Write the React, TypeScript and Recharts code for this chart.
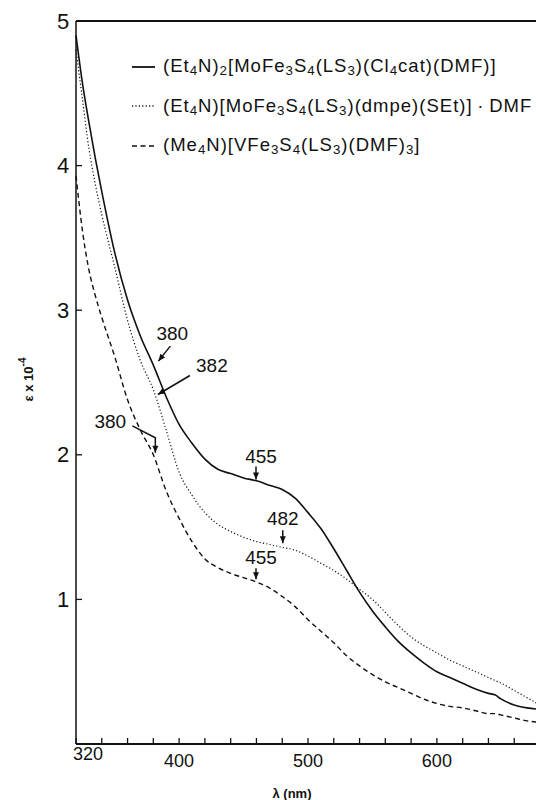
import React from 'react';
import { LineChart, Line, XAxis, YAxis, Legend, ReferenceLine, ReferenceDot } from 'recharts';

// wavelength grid (nm)
const wavelengths = [
  320, 325, 330, 335, 340, 350, 360, 370, 380, 390, 400, 410, 420, 430, 440, 450, 460, 470, 480, 490,
  500, 510, 520, 530, 540, 550, 560, 570, 580, 590, 600, 610, 620, 630, 640, 645, 650, 660, 670, 680,
];

// epsilon x 10^-4
const moCl4cat = [
  4.9, 4.57, 4.3, 4.05, 3.82, 3.4, 3.07, 2.82, 2.62, 2.4, 2.21, 2.08, 1.97, 1.9, 1.87, 1.84, 1.82, 1.79, 1.76, 1.7,
  1.6, 1.49, 1.35, 1.2, 1.05, 0.92, 0.81, 0.71, 0.63, 0.56, 0.5, 0.46, 0.42, 0.38, 0.35, 0.34, 0.31, 0.27, 0.25, 0.24,
];
const moDmpe = [
  4.8, 4.46, 4.12, 3.87, 3.66, 3.3, 2.93, 2.65, 2.45, 2.17, 1.88, 1.72, 1.6, 1.52, 1.47, 1.43, 1.4, 1.38, 1.36, 1.34,
  1.3, 1.25, 1.2, 1.14, 1.07, 1.0, 0.91, 0.82, 0.74, 0.68, 0.63, 0.58, 0.54, 0.5, 0.46, 0.44, 0.42, 0.37, 0.32, 0.27,
];
const vDmf = [
  3.93, 3.55, 3.28, 3.1, 2.95, 2.68, 2.38, 2.17, 2.0, 1.75, 1.56, 1.4, 1.28, 1.22, 1.18, 1.15, 1.12, 1.08, 1.02, 0.95,
  0.86, 0.78, 0.7, 0.61, 0.54, 0.48, 0.43, 0.39, 0.35, 0.31, 0.28, 0.26, 0.25, 0.23, 0.21, 0.21, 0.2, 0.18, 0.16, 0.15,
];

const seriesNames = [
  '(Et4N)2[MoFe3S4(LS3)(Cl4cat)(DMF)]',
  '(Et4N)[MoFe3S4(LS3)(dmpe)(SEt)]\u2009·\u2009DMF',
  '(Me4N)[VFe3S4(LS3)(DMF)3]',
];

const xTicks = [320, 340, 360, 380, 400, 420, 440, 460, 480, 500, 520, 540, 560, 580, 600, 620, 640, 660];
const xTickLabels = ['320', '400', '500', '600'];
const yTicks = [1, 2, 3, 4, 5];

// band maxima marked with arrows
const peakLabels = ['380', '382', '380', '455', '482', '455'];
const peakX = [380, 382, 380, 455, 482, 455];
const peakY = [2.62, 2.41, 2.0, 1.83, 1.36, 1.14];

const data = wavelengths.map((wl, i) => ({ wl, a: moCl4cat[i], b: moDmpe[i], c: vDmf[i] }));

const FONT = '"Liberation Sans", Arial, sans-serif';
const INK = '#111';
const lineStyles = [
  { key: 'a', dash: undefined, width: 1.6 },
  { key: 'b', dash: '1.2 2.2', width: 1.2 },
  { key: 'c', dash: '5 3.5', width: 1.4 },
];

// arrow path (relative to the marked point) and label offset for each callout
const calloutGeom = [
  { text: [19, -32], path: [[17, -19], [5, -4]] },
  { text: [56, -30], path: [[34, -20], [2, -1]] },
  { text: [-43, -33], path: [[-21, -29], [2, -17], [2, -2]] },
  { text: [11, -23], path: [[6, -13], [6, 0]] },
  { text: [-2, -29], path: [[-2, -17], [-2, -4]] },
  { text: [11, -22], path: [[6, -11], [6, 0]] },
];

function withSubscripts(s: string) {
  const parts: React.ReactNode[] = [];
  for (let i = 0; i < s.length; i++) {
    const ch = s[i];
    if (/\d/.test(ch) && i > 0 && /[A-Za-z)]/.test(s[i - 1])) {
      parts.push(<sub key={i} style={{ fontSize: '0.72em', verticalAlign: '-0.25em' }}>{ch}</sub>);
    } else {
      parts.push(ch);
    }
  }
  return parts;
}

function Callout(props: any) {
  const { cx, cy, label, geom } = props;
  const pts = geom.path.map(([dx, dy]: number[]) => [cx + dx, cy + dy]);
  const [x2, y2] = pts[pts.length - 1];
  const [x1, y1] = pts[pts.length - 2];
  const a = Math.atan2(y2 - y1, x2 - x1);
  const L = 7;
  const W = 3;
  const c = Math.cos(a);
  const s = Math.sin(a);
  const head = [
    [x2, y2],
    [x2 - L * c + W * s, y2 - L * s - W * c],
    [x2 - L * c - W * s, y2 - L * s + W * c],
  ];
  return (
    <g>
      <polyline points={pts.map((p: number[]) => p.join(',')).join(' ')} fill="none" stroke={INK} strokeWidth={1.5} />
      <polygon points={head.map((p) => p.join(',')).join(' ')} fill={INK} />
      <text
        x={cx + geom.text[0]}
        y={cy + geom.text[1]}
        textAnchor="middle"
        dominantBaseline="central"
        fontSize={19}
        fontFamily={FONT}
        fill={INK}
      >
        {label}
      </text>
    </g>
  );
}

function XTick(props: any) {
  const { x, y, payload } = props;
  const v = String(payload.value);
  const show = xTickLabels.includes(v);
  const first = v === '320';
  return (
    <g>
      <line x1={x} x2={x} y1={y} y2={y - 6} stroke={INK} strokeWidth={1.3} />
      {show && (
        <text
          x={first ? x + 12 : x}
          y={first ? y + 10 : y + 17}
          textAnchor="middle"
          dominantBaseline="central"
          fontSize={18}
          fontFamily={FONT}
          fill={INK}
        >
          {v}
        </text>
      )}
    </g>
  );
}

function YTick(props: any) {
  const { x, y, payload } = props;
  return (
    <g>
      <line x1={x} x2={x + 6} y1={y} y2={y} stroke={INK} strokeWidth={1.3} />
      <text x={x - 13} y={y} textAnchor="middle" dominantBaseline="central" fontSize={22} fontFamily={FONT} fill={INK}>
        {payload.value}
      </text>
    </g>
  );
}

function YTitle(props: any) {
  const { viewBox } = props;
  const cx = viewBox.x + 28;
  const cy = viewBox.y + viewBox.height / 2 - 3;
  return (
    <text
      x={cx}
      y={cy}
      transform={`rotate(-90 ${cx} ${cy})`}
      textAnchor="middle"
      dominantBaseline="central"
      fontSize={13}
      fontWeight="bold"
      fontFamily={FONT}
      fill={INK}
    >
      ε x 10<tspan dy={-6} fontSize={10}>-4</tspan>
    </text>
  );
}

function XTitle(props: any) {
  const { viewBox } = props;
  return (
    <text
      x={viewBox.x + viewBox.width / 2 - 16}
      y={viewBox.y + 49}
      textAnchor="middle"
      dominantBaseline="central"
      fontSize={13}
      fontWeight="bold"
      fontFamily={FONT}
      fill={INK}
    >
      λ (nm)
    </text>
  );
}

const renderLegend = () => (
  <div style={{ fontFamily: FONT, fontSize: 18.5, letterSpacing: 1, color: INK }}>
    {seriesNames.map((name, i) => (
      <div key={name} style={{ display: 'flex', alignItems: 'center', height: 39.5, whiteSpace: 'nowrap' }}>
        <svg width={31} height={10} style={{ flex: 'none' }}>
          <line
            x1={0}
            x2={23}
            y1={5}
            y2={5}
            stroke={INK}
            strokeWidth={lineStyles[i].width + 0.2}
            strokeDasharray={lineStyles[i].dash}
          />
        </svg>
        <span>{withSubscripts(name)}</span>
      </div>
    ))}
  </div>
);

export default function App() {
  return (
    <div style={{ position: 'absolute', left: 0, top: 0, width: 536, height: 800, overflow: 'hidden', background: '#fff' }}>
      <LineChart width={545} height={800} data={data} margin={{ top: 21, right: 5, bottom: 0, left: 0 }}>
        <XAxis
          dataKey="wl"
          type="number"
          domain={[320, 680]}
          ticks={xTicks}
          interval={0}
          tickSize={0}
          tickMargin={0}
          tickLine={false}
          tick={<XTick />}
          axisLine={{ stroke: INK, strokeWidth: 2 }}
          height={56}
          label={<XTitle />}
        />
        <YAxis
          type="number"
          domain={[0, 5]}
          ticks={yTicks}
          interval={0}
          tickSize={0}
          tickMargin={0}
          tickLine={false}
          tick={<YTick />}
          axisLine={{ stroke: INK, strokeWidth: 1.5 }}
          width={76}
          label={<YTitle />}
        />
        <ReferenceLine y={5} stroke={INK} strokeWidth={2} />
        <Legend
          layout="vertical"
          align="center"
          verticalAlign="middle"
          content={renderLegend}
          wrapperStyle={{ top: 47, left: 132, width: 404 }}
        />
        {lineStyles.map((st, i) => (
          <Line
            key={st.key}
            name={seriesNames[i]}
            dataKey={st.key}
            type="monotone"
            stroke={INK}
            strokeWidth={st.width}
            strokeDasharray={st.dash}
            dot={false}
            activeDot={false}
            isAnimationActive={false}
          />
        ))}
        {peakLabels.map((lab, i) => (
          <ReferenceDot
            key={i}
            x={peakX[i]}
            y={peakY[i]}
            r={0}
            ifOverflow="visible"
            shape={(p: any) => <Callout cx={p.cx} cy={p.cy} label={lab} geom={calloutGeom[i]} />}
          />
        ))}
      </LineChart>
    </div>
  );
}
